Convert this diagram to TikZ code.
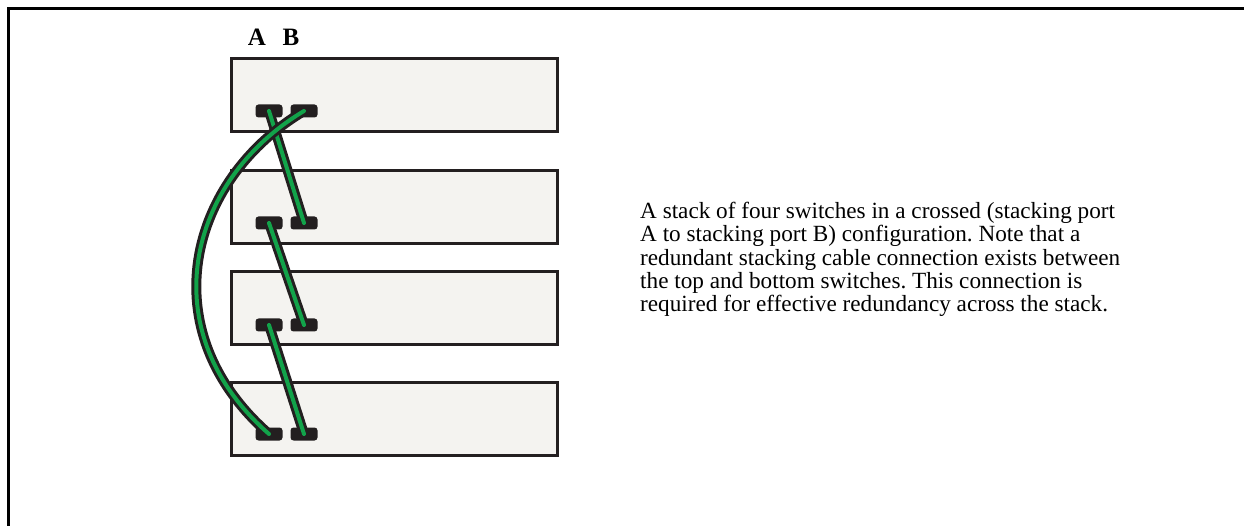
\documentclass[tikz,border=0pt]{standalone}
\usepackage{fontspec}
\setmainfont{Liberation Serif}
\usetikzlibrary{positioning, calc}

\definecolor{cablegreen}{RGB}{18,163,74}
\definecolor{boxfill}{RGB}{244,243,240}
\definecolor{ink}{RGB}{35,31,32}

\tikzset{
    switchbox/.style={draw=ink, line width=3pt, fill=boxfill, rectangle,
        minimum width=326pt, minimum height=73pt, inner sep=0pt},
    port/.style={fill=ink, rectangle, rounded corners=3pt,
        minimum width=27pt, minimum height=13pt, inner sep=0pt},
    cable/.style={draw=ink, line width=3pt, double=cablegreen,
        double distance=4pt, line cap=round},
    portlabel/.style={font=\fontsize{25}{25}\selectfont\bfseries, anchor=base},
    frameline/.style={draw=black, line width=3pt}
}

\begin{document}
\frenchspacing
\begin{tikzpicture}[x=1pt, y=-1pt]
    \useasboundingbox (0,0) rectangle (1244,526);

    % frame
    \coordinate (fl) at (8,526);
    \coordinate (fc) at (8,9);
    \coordinate (fr) at (1244,9);
    \draw[frameline] (fl) -- (fc) -- (fr);

    % switches and their stacking ports
    \foreach \n/\y/\py in {1/95/111, 2/207/223, 3/308/325, 4/419/434} {
        \node[switchbox] (sw\n) at (394,\y) {};
        \node[port] (a\n) at (269,\py) {};
        \node[port] (b\n) at (304,\py) {};
    }

    % port labels
    \node[portlabel] (lblA) at (257,46) {A};
    \node[portlabel] (lblB) at (291,46) {B};

    % crossed cables A -> B
    \draw[cable] (a1.center) -- (b2.center);
    \draw[cable] (a2.center) -- (b3.center);
    \draw[cable] (a3.center) -- (b4.center);

    % redundant cable top to bottom
    \draw[cable] (b1.center) .. controls (188,180) and (150,330) .. (a4.center);

    % description
    \node[anchor=north west, align=left, inner sep=0pt,
        font=\fontsize{23.2}{23.3}\selectfont] (desc) at (640,202) {%
        A stack of four switches in a crossed (stacking port\\
        A to stacking port B) configuration. Note that a\\
        redundant stacking cable connection exists between\\
        the top and bottom switches. This connection is\\
        required for effective redundancy across the stack.};
\end{tikzpicture}
\end{document}
